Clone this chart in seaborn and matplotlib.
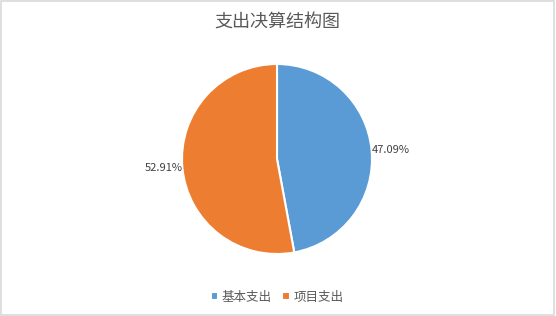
import matplotlib
matplotlib.use("Agg")
import matplotlib.pyplot as plt
import seaborn as sns
from matplotlib.patches import Rectangle

categories = ["基本支出", "项目支出"]
shares = [47.09, 52.91]
title = "支出决算结构图"

sns.set_theme(style="white")
plt.rcParams["font.family"] = ["Noto Sans CJK SC", "DejaVu Sans"]

colors = ["#5B9BD5", "#ED7D31"]

fig = plt.figure(figsize=(5.56, 3.16), dpi=100)
fig.patch.set_facecolor("white")

# light frame around the chart area
fig.patches.append(Rectangle((0.002, 0.004), 0.994, 0.992, transform=fig.transFigure,
                             fill=False, edgecolor="#D9D9D9", linewidth=1.2))

W, H = 556, 316
cx, cy, r = 277, 159, 95
ax = fig.add_axes([(cx - r) / W, (H - cy - r) / H, 2 * r / W, 2 * r / H])

labels = [f"{v:.2f}%" for v in shares]
wedges, texts = ax.pie(shares, colors=colors, startangle=90, counterclock=False,
                       labels=labels, labeldistance=1.0,
                       wedgeprops=dict(edgecolor="white", linewidth=1.5),
                       textprops=dict(fontsize=8, color="#404040"))
ax.set_aspect("equal")
ax.set_xlim(-1, 1)
ax.set_ylim(-1, 1)

fig.text(cx / W, 1 - 22 / H, title, ha="center", va="center",
         fontsize=13, color="#595959")

fig.legend(wedges, categories, loc="center", bbox_to_anchor=(cx / W, 1 - 297 / H),
           ncol=2, frameon=False, fontsize=9, handlelength=0.6, handleheight=0.6,
           handletextpad=0.3, columnspacing=0.8, labelcolor="#595959")

fig.savefig("out.png", dpi=100)
